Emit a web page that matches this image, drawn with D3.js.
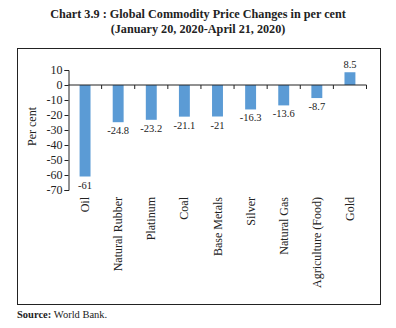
<!DOCTYPE html>
<html>
<head>
<meta charset="utf-8">
<script src="https://cdn.jsdelivr.net/npm/d3@7"></script>
<style>
  body { margin: 0; background: #fff; }
  svg { display: block; }
  text { font-family: "Liberation Serif", "DejaVu Serif", serif; fill: #222; }
</style>
</head>
<body>
<svg id="chart" width="396" height="328"></svg>
<script>
// Commodity price changes, January 20 to April 21, 2020
const categories = ["Oil", "Natural Rubber", "Platinum", "Coal", "Base Metals", "Silver", "Natural Gas", "Agriculture (Food)", "Gold"];
const values = [-61, -24.8, -23.2, -21.1, -21, -16.3, -13.6, -8.7, 8.5];
const valueLabels = ["-61", "-24.8", "-23.2", "-21.1", "-21", "-16.3", "-13.6", "-8.7", "8.5"];
const yTicks = [10, 0, -10, -20, -30, -40, -50, -60, -70];

const svg = d3.select("#chart");

// Title
svg.append("text").attr("x", 198).attr("y", 18).attr("text-anchor", "middle")
  .attr("font-size", 12.2).attr("font-weight", "bold")
  .text("Chart 3.9 : Global Commodity Price Changes in per cent");
svg.append("text").attr("x", 198).attr("y", 33).attr("text-anchor", "middle")
  .attr("font-size", 12.2).attr("font-weight", "bold")
  .text("(January 20, 2020-April 21, 2020)");

// Frame
svg.append("rect").attr("x", 17.5).attr("y", 48.5).attr("width", 363).attr("height", 256)
  .attr("fill", "none").attr("stroke", "#222").attr("stroke-width", 1);

const left = 68.5, right = 366.5;
const y = d3.scaleLinear().domain([10, -70]).range([70, 190]);
const x = d3.scaleBand().domain(categories).range([left, right]).paddingInner(0.67).paddingOuter(0.335);
const xTickScale = d3.scaleLinear().domain([0, categories.length]).range([left, right]);

// Y axis (plain hyphen for negatives)
const yAxis = svg.append("g").attr("transform", `translate(${left},0)`)
  .call(d3.axisLeft(y).tickValues(yTicks).tickSize(4).tickPadding(2).tickFormat(d => String(d)));
yAxis.selectAll("text").attr("font-size", 12).attr("font-family", "Liberation Serif, serif").attr("fill", "#222");
yAxis.selectAll("line,path").attr("stroke", "#222");

svg.append("text")
  .attr("transform", `translate(36,${(y(-10) + y(-40)) / 2 + 4}) rotate(-90)`)
  .attr("text-anchor", "middle").attr("font-size", 12).text("Per cent");

// Bars
svg.append("g").selectAll("rect").data(values).join("rect")
  .attr("x", (d, i) => x(categories[i]))
  .attr("width", x.bandwidth())
  .attr("y", d => Math.min(y(d), y(0)))
  .attr("height", d => Math.abs(y(d) - y(0)))
  .attr("fill", "#5B9BD5");

// Zero axis with ticks between categories
svg.append("line").attr("x1", left).attr("x2", right).attr("y1", y(0)).attr("y2", y(0))
  .attr("stroke", "#222");
svg.append("g").selectAll("line").data(d3.range(1, categories.length + 1)).join("line")
  .attr("x1", d => xTickScale(d)).attr("x2", d => xTickScale(d))
  .attr("y1", y(0)).attr("y2", y(0) + 4).attr("stroke", "#222");

// Value labels
svg.append("g").selectAll("text").data(values).join("text")
  .attr("x", (d, i) => x(categories[i]) + x.bandwidth() / 2)
  .attr("y", d => d < 0 ? y(d) + 12 : y(d) - 4)
  .attr("text-anchor", "middle").attr("font-size", 10.5)
  .text((d, i) => valueLabels[i]);

// Category labels
svg.append("g").selectAll("text").data(categories).join("text")
  .attr("transform", d => `translate(${x(d) + x.bandwidth() / 2 + 4},197) rotate(-90)`)
  .attr("text-anchor", "end").attr("font-size", 12)
  .text(d => d);

// Source
const src = svg.append("text").attr("x", 17).attr("y", 318).attr("font-size", 10.5);
src.append("tspan").attr("font-weight", "bold").text("Source: ");
src.append("tspan").text("World Bank.");
</script>
</body>
</html>
